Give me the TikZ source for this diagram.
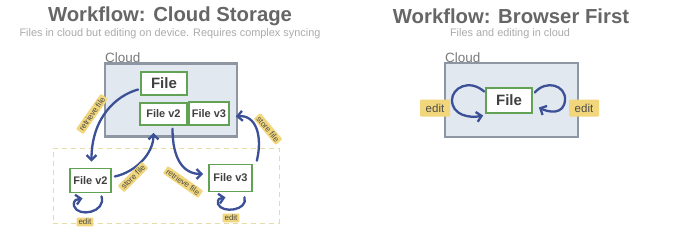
\documentclass[tikz,border=0pt]{standalone}
\usepackage{fontspec}
\setmainfont{Liberation Sans}
\usetikzlibrary{arrows.meta,calc}
\definecolor{titlegray}{HTML}{666666}
\definecolor{subgray}{HTML}{ABABAB}
\definecolor{cloudlbl}{HTML}{7A7A7A}
\definecolor{cloudfill}{HTML}{E2E8EF}
\definecolor{cloudedge}{HTML}{8E96A4}
\definecolor{filegreen}{HTML}{62A255}
\definecolor{arrowblue}{HTML}{3B5096}
\definecolor{tagyellow}{HTML}{F1D67C}
\definecolor{tagtext}{HTML}{4A4A4A}
\definecolor{devdash}{HTML}{E6DDA6}
\begin{document}
\begin{tikzpicture}[x=1pt,y=-1pt,
  titletext/.style={text=titlegray,font=\fontsize{20.3}{22}\selectfont\bfseries,inner sep=0pt},
  subtext/.style={text=subgray,font=\fontsize{10.9}{12}\selectfont,inner sep=0pt},
  cloudlabel/.style={text=cloudlbl,font=\fontsize{13.5}{14}\selectfont,inner sep=0pt,anchor=south west},
  cloudbox/.style={draw=cloudedge,fill=cloudfill,line width=2.6pt,inner sep=0pt},
  filebox/.style={draw=filegreen,fill=white,line width=1.7pt,inner sep=0pt,text=black!75,font=\fontsize{11}{12}\selectfont\bfseries},
  bigfile/.style={filebox,font=\fontsize{15}{16}\selectfont\bfseries},
  tag/.style={fill=tagyellow,rounded corners=1pt,text=tagtext,font=\fontsize{8}{9}\selectfont,inner xsep=2pt,inner ysep=1.5pt},
  bigtag/.style={tag,font=\fontsize{11.5}{12}\selectfont,minimum height=17pt,minimum width=30pt},
  flow/.style={draw=arrowblue,line width=2.3pt,line cap=round,-{Straight Barb[length=5pt,width=10pt,line width=2.3pt]}},
]
\useasboundingbox (0,0) rectangle (680,238);
\fill[white] (0,0) rectangle (680,238);

% ---------- left panel ----------
\node[titletext] (t1) at (170,16) {Workflow: Cloud Storage};
\node[subtext] (s1) at (170,34) {Files in cloud but editing on device. Requires complex syncing};

\node[cloudbox,minimum width=132pt,minimum height=73pt] (c1) at (171,100) {};
\node[cloudlabel] (c1l) at (105,63) {Cloud};

\node[draw=devdash,dashed,dash pattern=on 5pt off 4pt,line width=0.9pt,minimum width=226pt,minimum height=75pt,inner sep=0pt] (dev) at (166,185.5) {};

\node[bigfile,minimum width=46pt,minimum height=23pt] (cfile) at (164,83.5) {File};
\node[filebox,minimum width=47pt,minimum height=22pt] (cv2) at (163.5,114) {File v2};
\node[filebox,minimum width=40pt,minimum height=23pt] (cv3) at (209,113.5) {File v3};

\node[filebox,minimum width=41pt,minimum height=24pt] (dv2) at (90.5,180.5) {File v2};
\node[filebox,minimum width=43pt,minimum height=27pt] (dv3) at (230.5,178) {File v3};

% arrows
\draw[flow] ([shift={(-2,6)}]cfile.west) .. controls +(-22,6) and +(0,-44) .. ([shift={(1,-6)}]dv2.north);
\draw[flow] ([shift={(3,-4)}]dv2.east) .. controls +(22,-5) and +(0,20) .. ([shift={(-10,7)}]cv2.south);
\draw[flow] ([shift={(9,3)}]cv2.south) .. controls +(0,30) and +(-20,0) .. ([shift={(-5,-4)}]dv3.west);
\draw[flow] ([shift={(4,-3)}]dv3.north east) .. controls +(6,-25) and +(20,-2) .. ([shift={(6,3)}]cv3.east);

% edit loops
\draw[flow] ([shift={(11,3)}]dv2.south) .. controls +(5,16) and +(4,12) .. (74,206) .. controls +(-1,-7) and +(-5,1) .. ([shift={(-8,5)}]dv2.south);
\draw[flow] ([shift={(14,5)}]dv3.south) .. controls +(4,13) and +(4,10) .. (218,204) .. controls +(-1,-6) and +(-5,1) .. ([shift={(-5,5)}]dv3.south);

% tags
\node[tag,rotate=55] (r1) at (92,114) {retrieve file};
\node[tag,rotate=45] (s2) at (133,177) {store file};
\node[tag,rotate=-35] (r2) at (183,182) {retrieve file};
\node[tag,rotate=-50] (s3) at (268,129) {store file};
\node[tag] (e1) at (85,222) {edit};
\node[tag] (e2) at (231,218) {edit};

% ---------- right panel ----------
\node[titletext] (t2) at (511,16) {Workflow: Browser First};
\node[subtext] (s4) at (510,34) {Files and editing in cloud};

\node[cloudbox,minimum width=133pt,minimum height=74pt] (c2) at (511.5,100) {};
\node[cloudlabel] (c2l) at (445,63) {Cloud};

\node[bigfile,minimum width=46pt,minimum height=25pt] (rfile) at (509,100.5) {File};

\draw[flow] ([shift={(-1,-9)}]rfile.west) .. controls +(-15,-13) and +(0,-12) .. (452,100) .. controls +(0,15) and +(-14,3) .. ([shift={(-2,15)}]rfile.west);
\draw[flow] ([shift={(2,-8)}]rfile.east) .. controls +(11,-13) and +(1,-15) .. (565,100) .. controls +(-1,15) and +(10,5) .. ([shift={(6,7)}]rfile.east);

\node[bigtag] (e3) at (435,108) {edit};
\node[bigtag] (e4) at (584,108) {edit};
\end{tikzpicture}
\end{document}
